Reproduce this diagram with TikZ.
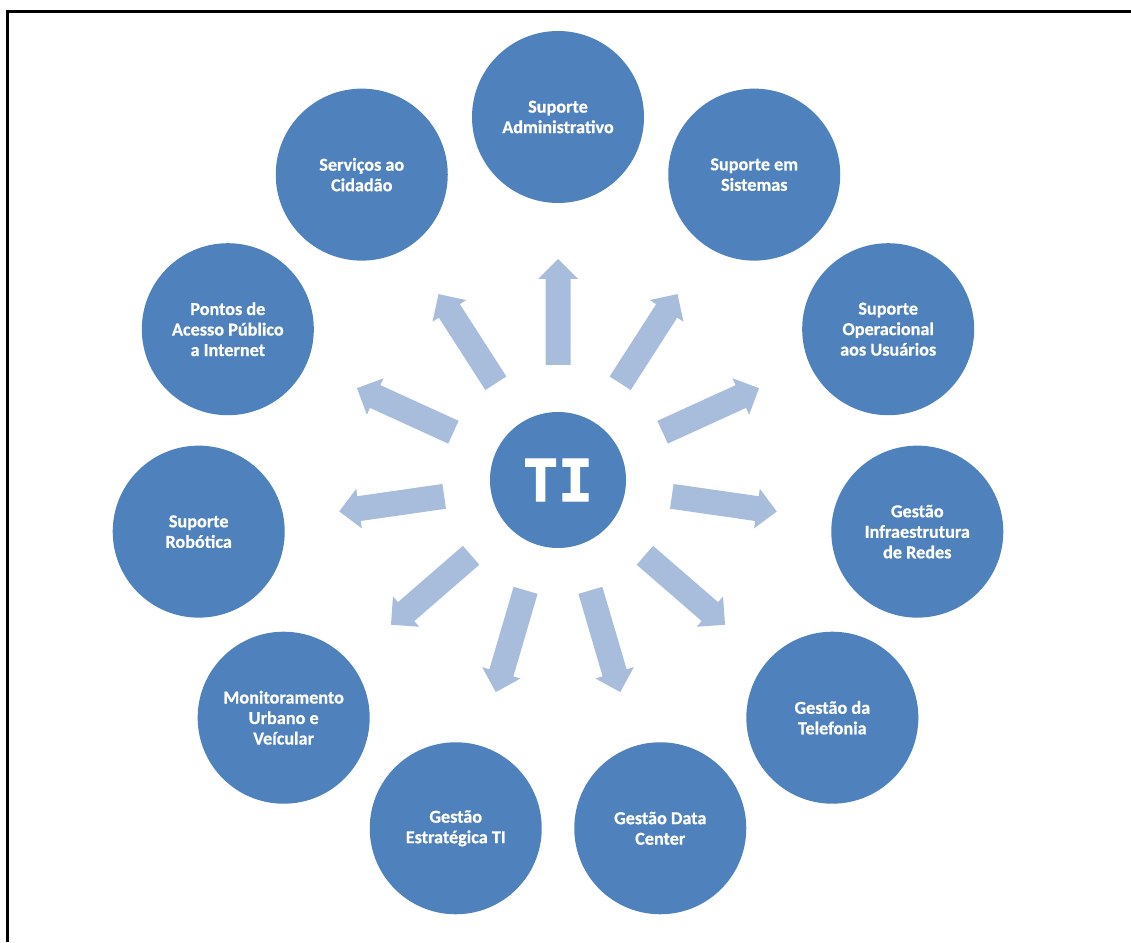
\documentclass[tikz,border=0pt]{standalone}
\usepackage{fontspec}
\newfontfamily\labfont{Carlito}[BoldFeatures={FakeBold=0.6}]
\newfontfamily\tifont{DejaVu Sans Mono}[BoldFeatures={FakeBold=2}]
\usetikzlibrary{calc}
\definecolor{circblue}{HTML}{4F81BD}
\definecolor{arrblue}{HTML}{A8BCDC}
\tikzset{
  circ/.style={circle, fill=circblue, draw=none, minimum size=172pt, inner sep=0pt,
    text=white, align=center, font=\labfont\bfseries\fontsize{18.2}{20.5}\selectfont},
  hub/.style={circle, fill=circblue, draw=none, minimum size=136pt, inner sep=0pt,
    text=white, font=\tifont\bfseries\fontsize{58}{60}\selectfont},
  blockarrow/.style={fill=arrblue, draw=none},
  frame/.style={line width=3pt, black}
}
\begin{document}
\begin{tikzpicture}[x=1pt,y=1pt]
\useasboundingbox (0,0) rectangle (1131,942);
\fill[white] (0,0) rectangle (1131,942);
% frame (top and left edges)
\coordinate (fA) at (7,0);
\coordinate (fB) at (7,930);
\coordinate (fC) at (1131,930);
\draw[frame] (fA) -- (fB) -- (fC);
% hub
\node[hub] (TI) at (558,462) {TI};
% arrows
\foreach \k in {0,...,10} {
  \pgfmathsetmacro\ang{90-\k*360/11}
  \fill[blockarrow, shift={(TI.center)}, rotate=\ang]
    (115,-12.5) -- (201,-12.5) -- (201,-20) -- (221,0) -- (201,20) -- (201,12.5) -- (115,12.5) -- cycle;
}
% outer circles
\node[circ] (c0) at ($(TI.center)+({90-0*360/11}:363)$) {Suporte\\Administrativo};
\node[circ] (c1) at ($(TI.center)+({90-1*360/11}:363)$) {Suporte em\\Sistemas};
\node[circ] (c2) at ($(TI.center)+({90-2*360/11}:363)$) {Suporte\\Operacional\\aos Usuários};
\node[circ] (c3) at ($(TI.center)+({90-3*360/11}:363)$) {Gestão\\Infraestrutura\\de Redes};
\node[circ] (c4) at ($(TI.center)+({90-4*360/11}:363)$) {Gestão da\\Telefonia};
\node[circ] (c5) at ($(TI.center)+({90-5*360/11}:363)$) {Gestão Data\\Center};
\node[circ] (c6) at ($(TI.center)+({90-6*360/11}:363)$) {Gestão\\Estratégica TI};
\node[circ] (c7) at ($(TI.center)+({90-7*360/11}:363)$) {Monitoramento\\Urbano e\\Veícular};
\node[circ] (c8) at ($(TI.center)+({90-8*360/11}:363)$) {Suporte\\Robótica};
\node[circ] (c9) at ($(TI.center)+({90-9*360/11}:363)$) {Pontos de\\Acesso Público\\a Internet};
\node[circ] (c10) at ($(TI.center)+({90-10*360/11}:363)$) {Serviços ao\\Cidadão};
\end{tikzpicture}
\end{document}
